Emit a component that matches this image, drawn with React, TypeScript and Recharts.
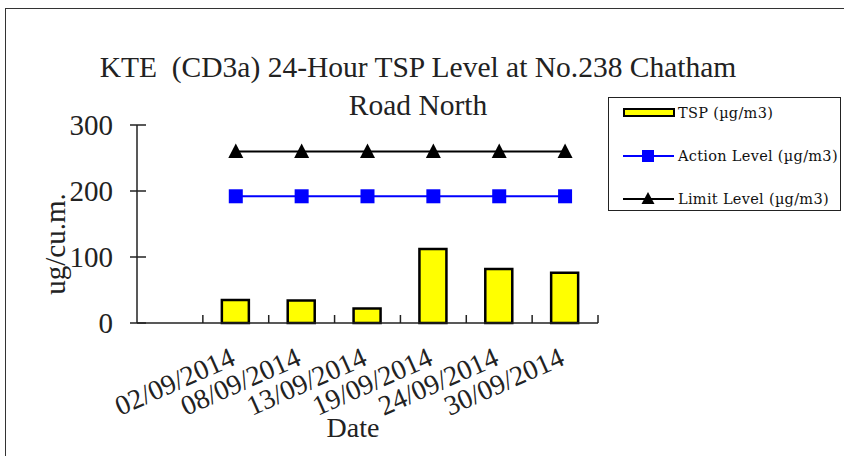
import { Bar, ComposedChart, Line, XAxis, YAxis } from "recharts";

const dates = ["", "02/09/2014", "08/09/2014", "13/09/2014", "19/09/2014", "24/09/2014", "30/09/2014"];
const tspValues = [null, 35, 34, 22, 112, 82, 76];
const actionLevel = [null, 192, 192, 192, 192, 192, 192];
const limitLevel = [null, 260, 260, 260, 260, 260, 260];
const yTicks = [0, 100, 200, 300];

const titleLines = ["KTE  (CD3a) 24-Hour TSP Level at No.238 Chatham", "Road North"];
const legendNames = ["TSP (µg/m3)", "Action Level (µg/m3)", "Limit Level (µg/m3)"];

const W = 844;
const H = 456;
const Y_AXIS_W = 137;
const X_AXIS_H = 133;
const MARGIN = { top: 125, right: 246, bottom: 0, left: 0 };
const PLOT_W = W - Y_AXIS_W - MARGIN.right;
const HALF_BAND = PLOT_W / dates.length / 2;

const SERIF = "'Liberation Serif', 'Times New Roman', serif";
const AXIS = "#222";

const rows = dates.map((date, i) => ({
  date,
  tsp: tspValues[i],
  action: actionLevel[i],
  limit: limitLevel[i],
}));

const XTick = (props: any) => {
  const { x, y, payload } = props;
  const lx = x + 1;
  const ly = y + 41;
  return (
    <g>
      <line x1={x + HALF_BAND} y1={y} x2={x + HALF_BAND} y2={y - 8} stroke={AXIS} strokeWidth={1.5} />
      {payload.value && (
        <text
          x={lx}
          y={ly}
          textAnchor="end"
          transform={`rotate(-24, ${lx}, ${ly})`}
          fontFamily={SERIF}
          fontSize={28}
          fill="#222"
        >
          {payload.value}
        </text>
      )}
    </g>
  );
};

const YTick = (props: any) => {
  const { x, y, payload } = props;
  return (
    <g>
      <line x1={x - 7} y1={y} x2={x + 9} y2={y} stroke={AXIS} strokeWidth={1.5} />
      <text x={x - 24} y={y} dy="0.36em" textAnchor="end" fontFamily={SERIF} fontSize={29} fill="#222">
        {payload.value}
      </text>
    </g>
  );
};

const SquareDot = (props: any) => {
  const { cx, cy, value, index } = props;
  if (value == null || cx == null) return <g key={`s${index}`} />;
  return <rect key={`s${index}`} x={cx - 7} y={cy - 7} width={14} height={14} fill="#0000FF" />;
};

const TriangleDot = (props: any) => {
  const { cx, cy, value, index } = props;
  if (value == null || cx == null) return <g key={`t${index}`} />;
  return (
    <polygon
      key={`t${index}`}
      points={`${cx},${cy - 8} ${cx - 7.5},${cy + 6.5} ${cx + 7.5},${cy + 6.5}`}
      fill="#000"
    />
  );
};

const LegendBox = () => {
  const rowsY = [16, 59, 102];
  return (
    <div
      style={{
        position: "absolute",
        left: 608,
        top: 97,
        width: 233,
        height: 114,
        border: "1px solid #222",
        background: "#fff",
        boxSizing: "border-box",
      }}
    >
      <svg width={233} height={114} style={{ position: "absolute", left: -1, top: -1 }}>
        <rect x={16} y={rowsY[0] - 4} width={50} height={7} fill="#FFFF00" stroke="#000" strokeWidth={2} />
        <line x1={15} y1={rowsY[1]} x2={66} y2={rowsY[1]} stroke="#0000FF" strokeWidth={2} />
        <rect x={34} y={rowsY[1] - 6} width={12} height={12} fill="#0000FF" />
        <line x1={15} y1={rowsY[2]} x2={66} y2={rowsY[2]} stroke="#000" strokeWidth={2} />
        <polygon points={`40,${rowsY[2] - 7} 33.5,${rowsY[2] + 5} 46.5,${rowsY[2] + 5}`} fill="#000" />
        {legendNames.map((name, i) => (
          <text
            key={name}
            x={70}
            y={rowsY[i]}
            dy="0.36em"
            fontFamily="'DejaVu Serif', serif"
            fontSize={14.5}
            letterSpacing={0.3}
            fill="#111"
          >
            {name}
          </text>
        ))}
      </svg>
    </div>
  );
};

export default function App() {
  return (
    <div style={{ position: "absolute", left: 0, top: 0, width: W, height: H, overflow: "hidden", background: "#fff" }}>
      <div
        style={{
          position: "absolute",
          left: 5,
          top: 8,
          width: 900,
          height: 500,
          border: "1.5px solid #333",
        }}
      />
      <div style={{ position: "absolute", left: 0, top: 0 }}>
        <ComposedChart width={W} height={H} data={rows} margin={MARGIN}>
          <XAxis
            dataKey="date"
            height={X_AXIS_H}
            interval={0}
            tickSize={0}
            tickMargin={0}
            tickLine={false}
            axisLine={{ stroke: AXIS, strokeWidth: 1.5 }}
            tick={XTick}
          />
          <YAxis
            width={Y_AXIS_W}
            domain={[0, 300]}
            ticks={yTicks}
            tickSize={0}
            tickMargin={0}
            tickLine={false}
            axisLine={{ stroke: AXIS, strokeWidth: 1.5 }}
            tick={YTick}
          />
          <Bar dataKey="tsp" fill="#FFFF00" stroke="#000" strokeWidth={2.5} barSize={27} isAnimationActive={false} />
          <Line
            dataKey="action"
            stroke="#0000FF"
            strokeWidth={2}
            dot={SquareDot}
            activeDot={false}
            isAnimationActive={false}
          />
          <Line
            dataKey="limit"
            stroke="#000"
            strokeWidth={2}
            dot={TriangleDot}
            activeDot={false}
            isAnimationActive={false}
          />
        </ComposedChart>
      </div>
      <svg width={W} height={H} style={{ position: "absolute", left: 0, top: 0, pointerEvents: "none" }}>
        {titleLines.map((line, i) => (
          <text
            key={line}
            x={418}
            y={77 + i * 38}
            textAnchor="middle"
            fontFamily={SERIF}
            fontSize={29.5}
            fill="#222"
            style={{ whiteSpace: "pre" }}
          >
            {line}
          </text>
        ))}
        <text x={353} y={437} textAnchor="middle" fontFamily={SERIF} fontSize={28} fill="#222">
          Date
        </text>
        <text
          x={65}
          y={244}
          textAnchor="middle"
          transform="rotate(-90, 65, 244)"
          fontFamily={SERIF}
          fontSize={29}
          fill="#222"
        >
          ug/cu.m.
        </text>
      </svg>
      <LegendBox />
    </div>
  );
}
